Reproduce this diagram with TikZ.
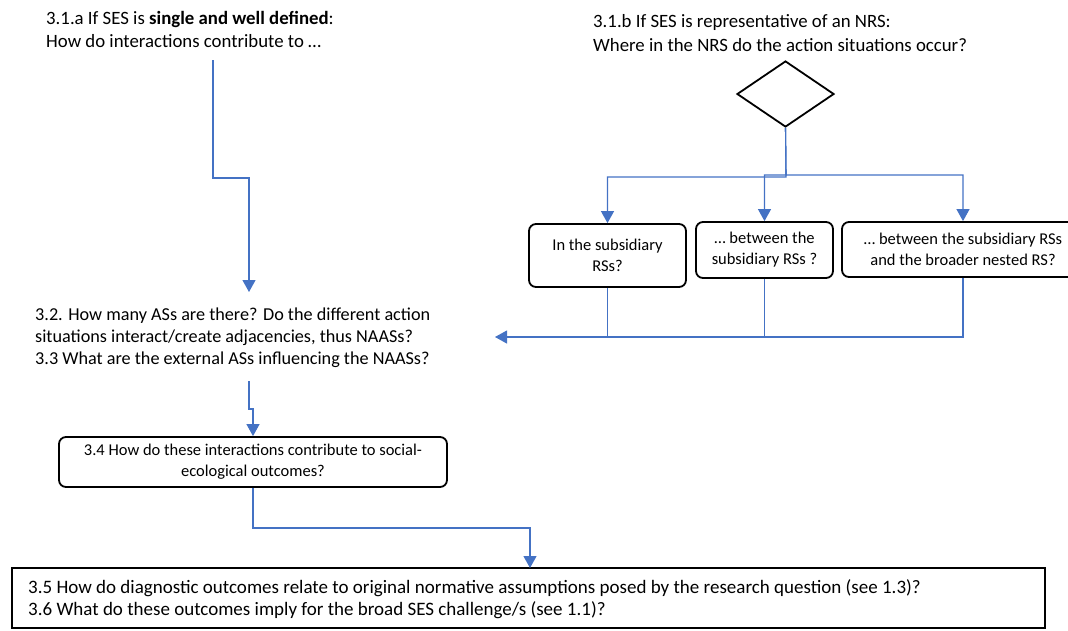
\documentclass[tikz,border=0pt]{standalone}
\usepackage{fontspec}
\setmainfont{Carlito}
\usetikzlibrary{arrows.meta,shapes.geometric}
\definecolor{flow}{HTML}{4472C4}
\tikzset{
  link/.style={draw=flow, line width=1.1pt},
  arrowed/.style={link, -{Triangle[width=13pt,length=12pt]}},
  roundbox/.style={draw=black, line width=1.8pt, rounded corners=7pt, align=center, inner sep=0pt},
  plainbox/.style={draw=black, line width=1.8pt, inner sep=0pt},
  question/.style={align=left, inner sep=0pt, anchor=west},
  boxfont/.style={font={\fontsize{16.5}{21}\selectfont}},
}
\begin{document}
\begin{tikzpicture}[x=1pt,y=-1pt]
\useasboundingbox (0,0) rectangle (1068,630);

% questions opening the two branches
\node[question, font={\fontsize{18.8}{23}\selectfont}] (qa) at (46,29)
  {3.1.a If SES is \textbf{single and well defined}:\\How do interactions contribute to …};
\node[question, font={\fontsize{18.8}{24}\selectfont}] (qb) at (593,33)
  {3.1.b If SES is representative of an NRS:\\Where in the NRS do the action situations occur?};

% decision diamond
\node[diamond, draw=black, line width=1.8pt, minimum width=97pt, minimum height=66pt, inner sep=0pt] (dec) at (785.5,94) {};

% the three locations of action situations
\node[roundbox, boxfont, minimum width=157pt, minimum height=63pt] (b1) at (607.5,255.5) {In the subsidiary\\RSs?};
\node[roundbox, boxfont, minimum width=137pt, minimum height=56pt] (b2) at (764.5,250) {… between the\\subsidiary RSs ?};
\node[roundbox, boxfont, minimum width=242pt, minimum height=55pt] (b3) at (963,249.5) {… between the subsidiary RSs\\and the broader nested RS?};

% central questions
\node[question, font={\fontsize{18.2}{22}\selectfont}] (q2) at (35,338)
  {3.2. How many ASs are there? Do the different action\\situations interact/create adjacencies, thus NAASs?\\3.3 What are the external ASs influencing the NAASs?};

\node[roundbox, boxfont, minimum width=388pt, minimum height=50pt] (q4) at (253,462)
  {3.4 How do these interactions contribute to social-\\ecological outcomes?};

\node[plainbox, minimum width=1033pt, minimum height=60pt] (q5) at (528.5,598) {};
\node[question, font={\fontsize{19}{22}\selectfont}] (q5t) at (28,599)
  {3.5 How do diagnostic outcomes relate to original normative assumptions posed by the research question (see 1.3)?\\3.6 What do these outcomes imply for the broad SES challenge/s (see 1.1)?};

% connector end points
\coordinate (a1) at (213,60);
\coordinate (a2) at (249,292);
\coordinate (q2out) at (249,381);
\coordinate (merge) at (495,337);

% single SES branch
\draw[arrowed] (a1) -- (213,178) -- (249,178) -- (a2);

% nested branch
\draw[arrowed] (dec.south) -- (786,177) -- (607.5,177) -- (b1.north);
\draw[arrowed] (dec.south) -- (786,175) -- (764.5,175) -- (b2.north);
\draw[arrowed] (dec.south) -- (786,175) -- (963,175) -- (b3.north);
\draw[link] (b1.south) -- (607.5,337);
\draw[link] (b2.south) -- (764.5,337);
\draw[arrowed] (b3.south) -- (963,337) -- (merge);

% towards outcomes
\draw[arrowed] (q2out) -- (249,409) -- (253,409) -- (q4.north);
\draw[arrowed] (q4.south) -- (253,528) -- (530,528) -- (530,568);
\end{tikzpicture}
\end{document}
